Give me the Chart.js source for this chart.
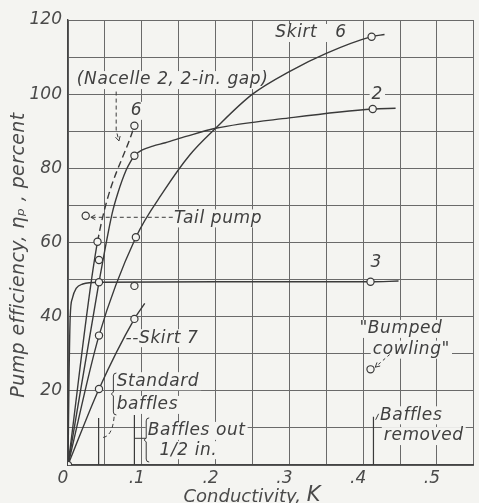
<!DOCTYPE html>
<html>
<head>
<meta charset="utf-8">
<script src="https://cdn.jsdelivr.net/npm/chart.js@4/dist/chart.umd.min.js"></script>
<style>
  html, body { margin: 0; padding: 0; background: #f4f4f1; }
  #wrap { width: 479px; height: 503px; }
</style>
</head>
<body>
<div id="wrap"><canvas id="chart" width="479" height="503"></canvas></div>
<script>
// faired curves, conductivity K vs pump efficiency (percent)
const nacelleK = [0, 0.040, 0.090];
const nacelleEff = [0, 60.2, 91.5];

const cowl2K = [0, 0.042, 0.050, 0.060, 0.0675, 0.079, 0.085, 0.090, 0.100, 0.115, 0.132, 0.160, 0.200, 0.300, 0.413, 0.444];
const cowl2Eff = [0, 49.3, 58.0, 68.0, 73.3, 79.6, 81.9, 83.4, 84.9, 86.0, 86.9, 88.6, 90.8, 93.6, 96.0, 96.2];

const skirt6K = [0, 0.042, 0.092, 0.130, 0.165, 0.200, 0.250, 0.300, 0.350, 0.4115, 0.429];
const skirt6Eff = [0, 34.9, 61.4, 73.9, 83.6, 90.8, 100.0, 106.1, 111.0, 115.5, 116.1];

const skirt7K = [0, 0.042, 0.090, 0.104];
const skirt7Eff = [0, 20.5, 39.4, 43.6];

const cowl3K = [0, 0.0015, 0.003, 0.006, 0.011, 0.020, 0.042, 0.200, 0.410, 0.448];
const cowl3Eff = [0, 25.0, 40.0, 45.0, 47.6, 48.8, 49.3, 49.4, 49.4, 49.6];

// test points (open circles)
const testK = [0, 0.040, 0.042, 0.042, 0.042, 0.042, 0.090, 0.090, 0.092, 0.090, 0.090, 0.024, 0.4115, 0.413, 0.410, 0.410];
const testEff = [0, 60.2, 55.3, 49.3, 34.9, 20.5, 91.5, 83.4, 61.4, 48.3, 39.4, 67.2, 115.5, 96.0, 49.4, 25.8];

// baffle settings marked on the K axis
const baffleK = [0.0415, 0.090, 0.414];
const baffleTop = [12.7, 13.5, 13.0];

const xTickLabels = ['0', '.1', '.2', '.3', '.4', '.5'];
const yTickLabels = ['20', '40', '60', '80', '100', '120'];

// notes written on the chart, placed in data units
const notes = [
  { text: 'Skirt   6', k: 0.281, e: 116.5 },
  { text: '2', k: 0.4115, e: 99.8 },
  { text: '(Nacelle 2, 2-in. gap)', k: 0.012, e: 103.8 },
  { text: '6', k: 0.085, e: 95.5 },
  { text: 'Tail pump', k: 0.1435, e: 66.5 },
  { text: '3', k: 0.410, e: 54.5 },
  { text: '--Skirt 7', k: 0.078, e: 34.2 },
  { text: 'Standard', k: 0.066, e: 22.6 },
  { text: 'baffles', k: 0.066, e: 16.2 },
  { text: 'Baffles out', k: 0.108, e: 9.2 },
  { text: '1/2 in.', k: 0.124, e: 4.0 },
  { text: 'Baffles', k: 0.423, e: 13.4 },
  { text: 'removed', k: 0.428, e: 7.8 },
  { text: '"Bumped', k: 0.395, e: 36.7 },
  { text: 'cowling"', k: 0.413, e: 31.1 }
];

const BG = '#f4f4f1';
const INK = '#3a3a3a';
const FONT = '"DejaVu Sans", "Liberation Sans", sans-serif';

function pts(ks, es) {
  return ks.map((k, i) => ({ x: k, y: es[i] }));
}

function curve(ks, es, extra) {
  return Object.assign({
    data: pts(ks, es),
    showLine: true,
    borderColor: INK,
    borderWidth: 1.4,
    pointRadius: 0,
    cubicInterpolationMode: 'monotone',
    order: 2
  }, extra || {});
}

const datasets = [
  {
    data: pts(testK, testEff),
    pointRadius: 3.6,
    pointBackgroundColor: BG,
    pointBorderColor: INK,
    pointBorderWidth: 1.2,
    order: 0
  },
  curve(nacelleK, nacelleEff, {
    segment: { borderDash: c => c.p0DataIndex >= 1 ? [7, 4] : undefined }
  }),
  curve(cowl2K, cowl2Eff),
  curve(skirt6K, skirt6Eff),
  curve(skirt7K, skirt7Eff),
  curve(cowl3K, cowl3Eff)
];
baffleK.forEach((k, i) => {
  datasets.push(curve([k, k], [0, baffleTop[i]], { borderWidth: 1.2 }));
});

function arrowHead(ctx, x0, y0, x1, y1) {
  const a = Math.atan2(y1 - y0, x1 - x0);
  ctx.setLineDash([]);
  ctx.beginPath();
  ctx.moveTo(x1 - 5 * Math.cos(a - 0.5), y1 - 5 * Math.sin(a - 0.5));
  ctx.lineTo(x1, y1);
  ctx.lineTo(x1 - 5 * Math.cos(a + 0.5), y1 - 5 * Math.sin(a + 0.5));
  ctx.stroke();
}

function brace(ctx, x, top, bot) {
  const mid = (top + bot) / 2;
  ctx.beginPath();
  ctx.moveTo(x + 3, top);
  ctx.quadraticCurveTo(x, top, x, top + 3);
  ctx.lineTo(x, mid - 2);
  ctx.lineTo(x - 2, mid);
  ctx.lineTo(x, mid + 2);
  ctx.lineTo(x, bot - 3);
  ctx.quadraticCurveTo(x, bot, x + 3, bot);
  ctx.stroke();
}

const notesPlugin = {
  id: 'notes',
  beforeDatasetsDraw(chart) {
    const ctx = chart.ctx;
    const X = v => chart.scales.x.getPixelForValue(v);
    const Y = v => chart.scales.y.getPixelForValue(v);
    ctx.save();
    ctx.font = 'italic 200 17px ' + FONT;
    ctx.letterSpacing = '0.6px';
    ctx.textBaseline = 'middle';
    ctx.textAlign = 'left';
    notes.forEach(n => {
      const w = ctx.measureText(n.text).width;
      ctx.fillStyle = BG;
      ctx.fillRect(X(n.k) - 2, Y(n.e) - 9, w + 4, 18);
    });
    ctx.fillStyle = '#404040';
    notes.forEach(n => ctx.fillText(n.text, X(n.k), Y(n.e)));
    ctx.letterSpacing = '0px';

    ctx.strokeStyle = INK;
    ctx.lineWidth = 1;
    // braces
    brace(ctx, X(0.0615), Y(24.8), Y(13.5));
    brace(ctx, X(0.106), Y(12.7), Y(0.8));

    // dashed leaders
    ctx.setLineDash([4, 3]);
    ctx.beginPath();
    ctx.moveTo(X(0.0653), Y(100.7));
    ctx.lineTo(X(0.0653), Y(90.3));
    ctx.lineTo(X(0.069), Y(87.4));
    ctx.stroke();
    arrowHead(ctx, X(0.0653), Y(90.3), X(0.069), Y(87.4));

    ctx.setLineDash([4, 3]);
    ctx.beginPath();
    ctx.moveTo(X(0.142), Y(66.8));
    ctx.lineTo(X(0.031), Y(66.8));
    ctx.stroke();
    arrowHead(ctx, X(0.142), Y(66.8), X(0.031), Y(66.8));

    ctx.setLineDash([4, 3]);
    ctx.beginPath();
    ctx.moveTo(X(0.0625), Y(13.0));
    ctx.quadraticCurveTo(X(0.060), Y(7.5), X(0.046), Y(7.4));
    ctx.stroke();

    ctx.setLineDash([3, 3]);
    ctx.beginPath();
    ctx.moveTo(X(0.436), Y(29.8));
    ctx.lineTo(X(0.4165), Y(26.4));
    ctx.stroke();
    arrowHead(ctx, X(0.436), Y(29.8), X(0.4165), Y(26.4));

    // solid connectors
    ctx.setLineDash([]);
    ctx.beginPath();
    ctx.moveTo(X(0.0905), Y(7.2));
    ctx.lineTo(X(0.106), Y(7.2));
    ctx.moveTo(X(0.417), Y(12.2));
    ctx.lineTo(X(0.421), Y(13.8));
    ctx.stroke();
    ctx.restore();
  },
  afterDraw(chart) {
    const ctx = chart.ctx;
    ctx.save();
    ctx.fillStyle = '#4a4a4a';
    ctx.textBaseline = 'middle';
    ctx.textAlign = 'center';
    ctx.font = 'italic 200 19px ' + FONT;
    ctx.letterSpacing = '0.4px';
    ctx.translate(19, 255);
    ctx.rotate(-Math.PI / 2);
    ctx.fillText('Pump efficiency, \u03b7\u209a , percent', 0, 0);
    ctx.restore();

    ctx.save();
    ctx.fillStyle = '#4a4a4a';
    ctx.textBaseline = 'middle';
    ctx.textAlign = 'left';
    const a = 'Conductivity, ';
    ctx.font = 'italic 200 18px ' + FONT;
    const wa = ctx.measureText(a).width;
    ctx.font = 'italic 21px ' + FONT;
    const wb = ctx.measureText('K').width;
    const x0 = 252 - (wa + wb) / 2;
    ctx.font = 'italic 200 18px ' + FONT;
    ctx.fillText(a, x0, 497);
    ctx.font = 'italic 21px ' + FONT;
    ctx.fillText('K', x0 + wa, 496);
    ctx.restore();
  }
};

new Chart(document.getElementById('chart'), {
  type: 'scatter',
  data: { datasets: datasets },
  options: {
    responsive: false,
    animation: false,
    layout: { padding: { top: 20, right: 1, left: 0, bottom: 0 } },
    plugins: { legend: { display: false }, tooltip: { enabled: false } },
    scales: {
      x: {
        type: 'linear',
        min: 0,
        max: 0.55,
        afterFit: s => { s.height = 38; },
        ticks: {
          stepSize: 0.05,
          autoSkip: false,
          maxRotation: 0,
          padding: 3,
          labelOffset: -5,
          color: '#4a4a4a',
          font: { family: FONT, size: 17, style: 'italic', weight: 200 },
          callback: v => {
            const i = Math.round(v * 100);
            return i % 10 ? '' : xTickLabels[i / 10];
          }
        },
        grid: { color: '#6a6a6a', lineWidth: 1, drawTicks: false },
        border: { color: '#444', width: 1.4 }
      },
      y: {
        min: 0,
        max: 120,
        afterFit: s => { s.width = 68; },
        ticks: {
          stepSize: 10,
          autoSkip: false,
          padding: 6,
          color: '#4a4a4a',
          font: { family: FONT, size: 17, style: 'italic', weight: 200 },
          callback: v => (v % 20 === 0 && v > 0) ? yTickLabels[v / 20 - 1] : ''
        },
        grid: { color: '#6a6a6a', lineWidth: 1, drawTicks: false },
        border: { color: '#444', width: 1.4 }
      }
    }
  },
  plugins: [notesPlugin]
});
</script>
</body>
</html>
